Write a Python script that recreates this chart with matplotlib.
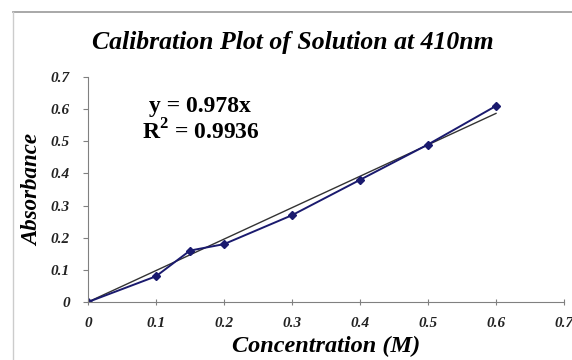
import numpy as np
import matplotlib
matplotlib.use('Agg')
import matplotlib.pyplot as plt
from matplotlib.lines import Line2D

conc = [0, 0.1, 0.15, 0.2, 0.3, 0.4, 0.5, 0.6]
absorb = [0, 0.08, 0.16, 0.18, 0.27, 0.38, 0.49, 0.61]
slope = 0.978
x_ticks = [0, 0.1, 0.2, 0.3, 0.4, 0.5, 0.6, 0.7]
y_ticks = [0, 0.1, 0.2, 0.3, 0.4, 0.5, 0.6, 0.7]

plt.rcParams['font.family'] = 'Liberation Serif'
plt.rcParams['mathtext.fontset'] = 'custom'
plt.rcParams['mathtext.rm'] = 'Liberation Serif:bold'
plt.rcParams['mathtext.bf'] = 'Liberation Serif:bold'

fig = plt.figure(figsize=(5.72, 3.6), dpi=100)
ax = fig.add_axes([88/572, 1 - 302/360, (564 - 88)/572, (302 - 77)/360])

# trendline y = 0.978x
fit_x = np.array([conc[0], conc[-1]])
ax.plot(fit_x, slope * fit_x, color='#333333', lw=1.0)
ax.plot(conc, absorb, color='#1a1a6e', lw=1.4, marker='D', ms=4,
        markerfacecolor='#1a1a6e', markeredgecolor='#1a1a6e')

ax.set_xlim(0, 0.7)
ax.set_ylim(0, 0.7)
ax.set_xticks(x_ticks)
ax.set_yticks(y_ticks)
ax.set_xticklabels([f"{v:g}" for v in x_ticks], fontsize=11, fontweight='bold', style='italic')
ax.set_yticklabels([f"{v:g}" for v in y_ticks], fontsize=11, fontweight='bold', style='italic')
ax.tick_params(axis='y', direction='out', length=3.5, width=0.8, colors='#808080',
               labelcolor='#222222', pad=9.5)
ax.tick_params(axis='x', direction='inout', length=4, width=0.8, colors='#808080',
               labelcolor='#222222', pad=9)
ax.spines['top'].set_visible(False)
ax.spines['right'].set_visible(False)
for s in ('left', 'bottom'):
    ax.spines[s].set_color('#808080')
    ax.spines[s].set_linewidth(0.8)

fig.text(293/572, 1 - 43/360, 'Calibration Plot of Solution at 410nm', ha='center', va='center',
         fontsize=18.5, fontweight='bold', style='italic')
fig.text(326/572, 1 - 346/360, 'Concentration (M)', ha='center', va='center',
         fontsize=17.5, fontweight='bold', style='italic')
fig.text(33/572, 1 - 190/360, 'Absorbance', ha='center', va='center', rotation=90,
         fontsize=16.5, fontweight='bold', style='italic')
fig.text(200/572, 1 - 106/360, 'y = 0.978x', ha='center', va='center', fontsize=17, fontweight='bold')
fig.text(201/572, 1 - 132/360, 'R$^{2}$ = 0.9936', ha='center', va='center', fontsize=17, fontweight='bold')

# gray frame of the chart area
fig.add_artist(Line2D([13/572, 1], [1 - 12/360, 1 - 12/360], color='#9a9a9a', lw=1.2))
fig.add_artist(Line2D([13/572, 13/572], [0, 1 - 12/360], color='#cccccc', lw=1.0))

fig.savefig('out.png', dpi=100)
